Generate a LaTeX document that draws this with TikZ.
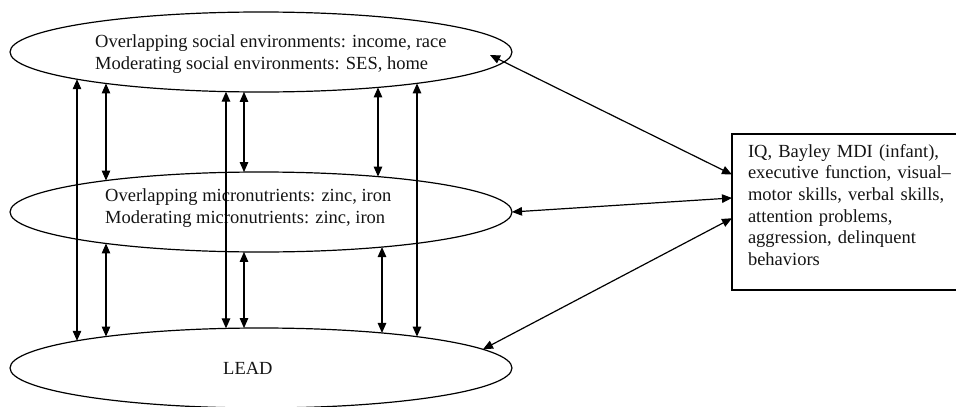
\documentclass[tikz,border=0pt]{standalone}
\usepackage{fontspec}
\setmainfont{Liberation Serif}
\usetikzlibrary{arrows.meta,shapes.geometric,calc}
\begin{document}
\begin{tikzpicture}[x=1pt,y=-1pt,
  every node/.style={font=\fontsize{18.5}{21.7}\selectfont, text=black!92},
  oval/.style={ellipse, draw, line width=1.2pt, minimum width=502pt, minimum height=80pt, inner sep=0pt, outer sep=0pt},
  lbl/.style={anchor=west, align=left, inner sep=0pt},
  link/.style={line width=1.2pt, {Triangle[length=10pt,width=8.5pt]}-{Triangle[length=10pt,width=8.5pt]}},
]
\useasboundingbox (0,0) rectangle (956,407);

% ellipses
\node[oval] (top) at (261,52) {};
\node[oval] (mid) at (261,212) {};
\node[oval] (bot) at (261,368) {};

% ellipse texts
\node[lbl] (ttop) at (95,54.2) {Overlapping social environments: income, race\\Moderating social environments: SES, home};
\node[lbl] (tmid) at (105,208.2) {Overlapping micronutrients: zinc, iron\\Moderating micronutrients: zinc, iron};
\node[anchor=base west, inner sep=0pt] (tbot) at (223,374) {LEAD};

% outcome box (its right side lies beyond the picture edge)
\node[draw, line width=1.2pt, anchor=north west, inner xsep=16pt, inner ysep=0pt, outer sep=0pt,
      text width=240pt, align=left] (out) at (732,134)
  {\rule{0pt}{23pt}IQ, Bayley MDI (infant),\\
   executive function, visual–\\
   motor skills, verbal skills,\\
   attention problems,\\
   aggression, delinquent\\
   behaviors\rule[-24.5pt]{0pt}{24.5pt}};

% vertical link from the lower edge of ellipse #1 to the upper edge of ellipse #2,
% at horizontal offset #3 from the centre; #4 = half-height of the ellipse there
\newcommand\vlink[4]{\draw[link] ($(#1.center)+(#3,#4)$) -- ($(#2.center)+(#3,-#4)$);}

% long vertical links top <-> bottom
\vlink{top}{bot}{-184}{27.20}
\vlink{top}{bot}{-35}{39.61}
\vlink{top}{bot}{156}{31.34}
% top <-> middle
\vlink{top}{mid}{-155}{31.46}
\vlink{top}{mid}{-17}{39.91}
\vlink{top}{mid}{117}{35.39}
% middle <-> bottom
\vlink{mid}{bot}{-155}{31.46}
\vlink{mid}{bot}{-17}{39.91}
\vlink{mid}{bot}{121}{35.05}

% links to the outcome box
\draw[link] ($(out.north west)!0.26!(out.south west)$) -- ([shift={(-22,3)}]top.east);
\draw[link] ($(out.north west)!0.41!(out.south west)$) -- (mid.east);
\draw[link] ($(out.north west)!0.54!(out.south west)$) -- ($(bot.center)+(222,-18.7)$);
\end{tikzpicture}
\end{document}
